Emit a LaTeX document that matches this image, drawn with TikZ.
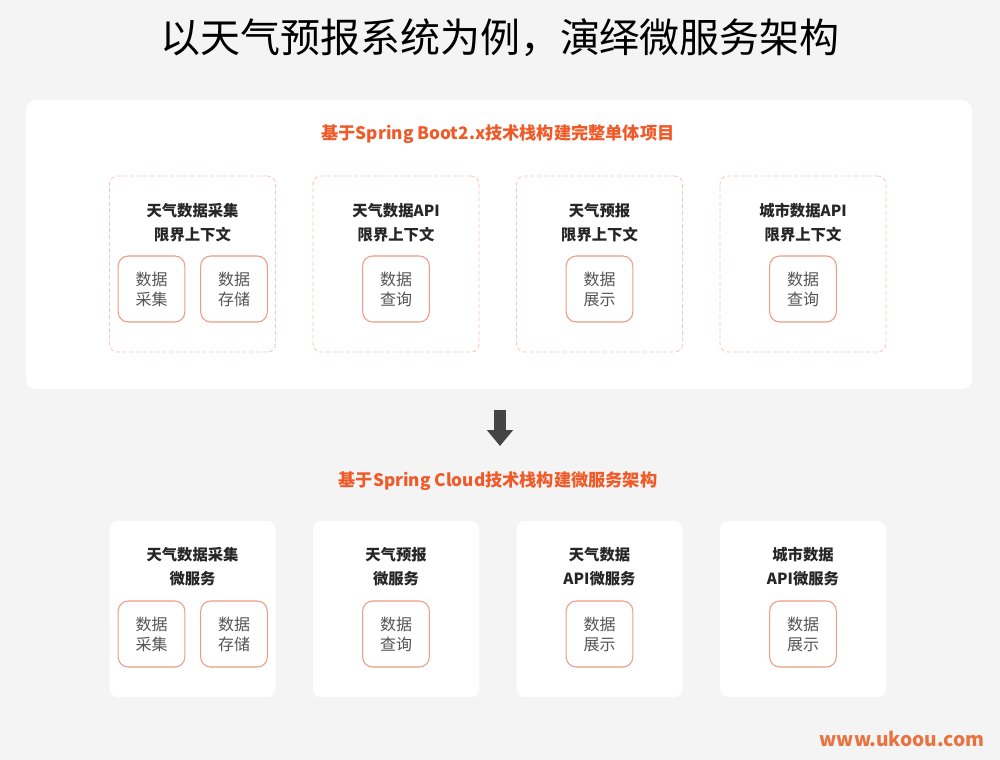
\documentclass[tikz,border=0pt]{standalone}
\usepackage{fontspec}
\setmainfont{Noto Sans CJK SC}
\usetikzlibrary{arrows.meta}

\definecolor{bggray}{HTML}{F4F4F4}
\definecolor{hotorange}{HTML}{F05A28}
\definecolor{dashpink}{HTML}{F6C6BC}
\definecolor{modline}{HTML}{EE9C84}
\definecolor{modtext}{HTML}{555555}
\definecolor{arrowgray}{HTML}{444444}
\definecolor{siteorange}{HTML}{E97340}

\begin{document}
\begin{tikzpicture}[x=0.75pt, y=-0.75pt,
  panel/.style={fill=white, rounded corners=7.5pt, minimum width=709.5pt, minimum height=216.75pt, inner sep=0pt},
  ctxbox/.style={draw=dashpink, dash pattern=on 3pt off 2pt, line width=0.6pt, rounded corners=6pt, minimum width=124.5pt, minimum height=132pt, inner sep=0pt},
  svcbox/.style={fill=white, rounded corners=6pt, minimum width=124.5pt, minimum height=132pt, inner sep=0pt},
  modbox/.style={draw=modline, fill=white, line width=0.8pt, rounded corners=7.5pt, minimum width=50pt, minimum height=49.5pt, inner sep=0pt, align=center, text=modtext, font=\fontsize{12}{15}\selectfont},
  boxlabel/.style={align=center, text=black!85, font=\bfseries\fontsize{11.5}{18}\selectfont},
  heading/.style={text=hotorange, font=\bfseries\fontsize{12.9}{15}\selectfont},
]

\fill[bggray] (0,0) rectangle (1000,760);
\useasboundingbox (0,0) rectangle (1000,760);

\node[font=\fontsize{30}{36}\selectfont] (title) at (500,38) {以天气预报系统为例，演绎微服务架构};

% ---------- monolith: Spring Boot ----------
\node[panel] (mono) at (499,244.5) {};
\node[heading] (headA) at (498,134) {基于Spring Boot2.x技术栈构建完整单体项目};

\node[ctxbox] (ctxA) at (192.5,264) {};
\node[boxlabel] (labA) at (192.5,223) {天气数据采集\\限界上下文};
\node[modbox] (collectA) at (151.5,289) {数据\\采集};
\node[modbox] (storeA) at (234,289) {数据\\存储};

\node[ctxbox] (ctxB) at (396,264) {};
\node[boxlabel] (labB) at (396,223) {天气数据API\\限界上下文};
\node[modbox] (queryB) at (396,289) {数据\\查询};

\node[ctxbox] (ctxC) at (599.5,264) {};
\node[boxlabel] (labC) at (599.5,223) {天气预报\\限界上下文};
\node[modbox] (showC) at (599.5,289) {数据\\展示};

\node[ctxbox] (ctxD) at (803,264) {};
\node[boxlabel] (labD) at (803,223) {城市数据API\\限界上下文};
\node[modbox] (queryD) at (803,289) {数据\\查询};

% ---------- arrow ----------
\coordinate (arrtop) at (500,410);
\coordinate (arrtip) at (500,446);
\draw[arrowgray, line width=9pt, -{Triangle[width=19pt,length=12pt]}] (arrtop) -- (arrtip);

% ---------- microservices: Spring Cloud ----------
\node[heading] (headB) at (498,481) {基于Spring Cloud技术栈构建微服务架构};

\node[svcbox] (svcA) at (192.5,609) {};
\node[boxlabel] (slabA) at (192.5,567) {天气数据采集\\微服务};
\node[modbox] (collectS) at (151.5,634) {数据\\采集};
\node[modbox] (storeS) at (234,634) {数据\\存储};

\node[svcbox] (svcB) at (396,609) {};
\node[boxlabel] (slabB) at (396,567) {天气预报\\微服务};
\node[modbox] (queryS) at (396,634) {数据\\查询};

\node[svcbox] (svcC) at (599.5,609) {};
\node[boxlabel] (slabC) at (599.5,567) {天气数据\\API微服务};
\node[modbox] (showS) at (599.5,634) {数据\\展示};

\node[svcbox] (svcD) at (803,609) {};
\node[boxlabel] (slabD) at (803,567) {城市数据\\API微服务};
\node[modbox] (showD) at (803,634) {数据\\展示};

\node[text=siteorange, font=\bfseries\fontsize{14.4}{16}\selectfont] (site) at (902,739) {www.ukoou.com};

\end{tikzpicture}
\end{document}
